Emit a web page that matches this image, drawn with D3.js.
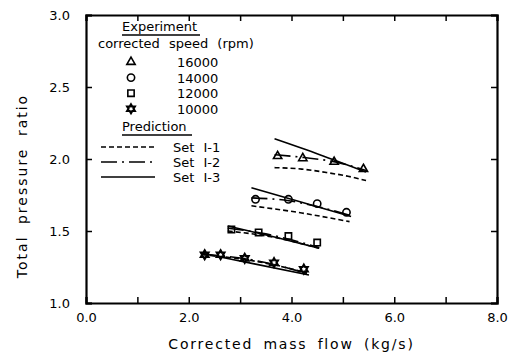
<!DOCTYPE html>
<html>
<head>
<meta charset="utf-8">
<script src="https://cdn.jsdelivr.net/npm/d3@7"></script>
<style>
  body { margin: 0; background: #fff; }
  svg { font-family: "DejaVu Sans", sans-serif; }
</style>
</head>
<body>
<svg width="511" height="362"></svg>
<script>
//data
const speeds = ["16000", "14000", "12000", "10000"];
const setNames = ["Set I-1", "Set I-2", "Set I-3"];
const xTicks = [0, 2, 4, 6, 8];
const yTicks = [1.0, 1.5, 2.0, 2.5, 3.0];

//experiment points, one array per speed
const expFlow16000 = [3.73, 4.22, 4.83, 5.40];
const expPR16000   = [2.02, 2.005, 1.98, 1.93];
const expFlow14000 = [3.30, 3.94, 4.50, 5.07];
const expPR14000   = [1.72, 1.72, 1.69, 1.63];
const expFlow12000 = [2.83, 3.36, 3.94, 4.50];
const expPR12000   = [1.51, 1.49, 1.465, 1.42];
const expFlow10000 = [2.31, 2.62, 3.09, 3.66, 4.24];
const expPR10000   = [1.335, 1.335, 1.31, 1.28, 1.235];

//predictions: Set I-1 (dashed)
const p1Flow16000 = [3.67, 4.2, 4.7, 5.1, 5.45];
const p1PR16000   = [1.94, 1.93, 1.905, 1.88, 1.85];
const p1Flow14000 = [3.22, 4.2, 5.13];
const p1PR14000   = [1.675, 1.625, 1.565];
const p1Flow12000 = [2.76, 3.6, 4.54];
const p1PR12000   = [1.50, 1.46, 1.38];
const p1Flow10000 = [2.26, 3.3, 4.3];
const p1PR10000   = [1.335, 1.29, 1.21];

//predictions: Set I-2 (dash-dot)
const p2Flow16000 = [3.67, 4.25, 4.85, 5.45];
const p2PR16000   = [2.03, 2.01, 1.98, 1.92];
const p2Flow14000 = [3.22, 3.95, 4.5, 5.13];
const p2PR14000   = [1.73, 1.71, 1.67, 1.61];
const p2Flow12000 = [2.76, 3.5, 4.54];
const p2PR12000   = [1.52, 1.48, 1.385];
const p2Flow10000 = [2.26, 3.3, 4.3];
const p2PR10000   = [1.34, 1.295, 1.205];

//predictions: Set I-3 (solid)
const p3Flow16000 = [3.67, 4.55, 5.45];
const p3PR16000   = [2.14, 2.03, 1.91];
const p3Flow14000 = [3.22, 4.2, 5.16];
const p3PR14000   = [1.80, 1.70, 1.60];
const p3Flow12000 = [2.76, 3.65, 4.54];
const p3PR12000   = [1.535, 1.46, 1.38];
const p3Flow10000 = [2.26, 3.3, 4.34];
const p3PR10000   = [1.345, 1.27, 1.195];

const zip = (xs, ys) => xs.map((x, i) => [x, ys[i]]);

const expSeries = [
  zip(expFlow16000, expPR16000),
  zip(expFlow14000, expPR14000),
  zip(expFlow12000, expPR12000),
  zip(expFlow10000, expPR10000)
];
const predSeries = [
  [zip(p1Flow16000, p1PR16000), zip(p1Flow14000, p1PR14000), zip(p1Flow12000, p1PR12000), zip(p1Flow10000, p1PR10000)],
  [zip(p2Flow16000, p2PR16000), zip(p2Flow14000, p2PR14000), zip(p2Flow12000, p2PR12000), zip(p2Flow10000, p2PR10000)],
  [zip(p3Flow16000, p3PR16000), zip(p3Flow14000, p3PR14000), zip(p3Flow12000, p3PR12000), zip(p3Flow10000, p3PR10000)]
];

const dashes = ["5,3", "16,5,2,5", null];

//hexagram marker
const symbolHex = {
  draw(context, size) {
    const r = Math.sqrt(size / 2.2);
    const ri = r / Math.sqrt(3);
    for (let i = 0; i < 12; i++) {
      const a = -Math.PI / 2 + i * Math.PI / 6;
      const rr = i % 2 === 0 ? r : ri;
      const px = rr * Math.cos(a), py = rr * Math.sin(a);
      if (i === 0) context.moveTo(px, py); else context.lineTo(px, py);
    }
    context.closePath();
  }
};
const symbols = [d3.symbolTriangle, d3.symbolCircle, d3.symbolSquare, symbolHex];
const symbolSizes = [30, 42, 40, 42];

const svg = d3.select("svg");
const plotLeft = 86, plotRight = 497, plotTop = 15, plotBottom = 303;

const xScale = d3.scaleLinear().domain([0, 8]).range([plotLeft, plotRight]);
const yScale = d3.scaleLinear().domain([1, 3]).range([plotBottom, plotTop]);

//axes, ticks inward on all four sides
svg.append("g")
  .attr("transform", `translate(0, ${plotBottom})`)
  .call(d3.axisBottom(xScale).tickValues(d3.range(0, 9, 1)).tickSize(-6)
    .tickFormat(d => xTicks.includes(d) ? d3.format(".1f")(d) : "").tickPadding(10));
svg.append("g")
  .attr("transform", `translate(0, ${plotTop})`)
  .call(d3.axisTop(xScale).tickValues(d3.range(0, 9, 1)).tickSize(-6).tickFormat(""));
svg.append("g")
  .attr("transform", `translate(${plotLeft}, 0)`)
  .call(d3.axisLeft(yScale).tickValues(yTicks).tickSize(-6)
    .tickFormat(d3.format(".1f")).tickPadding(16));
svg.append("g")
  .attr("transform", `translate(${plotRight}, 0)`)
  .call(d3.axisRight(yScale).tickValues(yTicks).tickSize(-6).tickFormat(""));

svg.selectAll(".domain").attr("stroke", "#000").attr("stroke-width", 2.2);
svg.selectAll(".tick line").attr("stroke", "#000").attr("stroke-width", 1.5);
svg.selectAll(".tick text").attr("font-size", 13).attr("fill", "#000")
  .attr("font-family", "DejaVu Sans, sans-serif");

//axis titles
svg.append("text")
  .attr("x", (plotLeft + plotRight) / 2)
  .attr("y", 349)
  .attr("text-anchor", "middle")
  .attr("font-size", 14)
  .attr("letter-spacing", 1.8)
  .attr("word-spacing", 4)
  .text("Corrected mass flow (kg/s)");

svg.append("text")
  .attr("transform", "translate(27, 186) rotate(-90)")
  .attr("text-anchor", "middle")
  .attr("font-size", 14)
  .attr("letter-spacing", 2)
  .attr("word-spacing", 5)
  .text("Total pressure ratio");

//prediction lines
const line = d3.line().x(d => xScale(d[0])).y(d => yScale(d[1])).curve(d3.curveMonotoneX);

predSeries.forEach((group, k) => {
  svg.append("g").selectAll("path")
    .data(group)
    .enter()
    .append("path")
      .attr("d", line)
      .attr("fill", "none")
      .attr("stroke", "#000")
      .attr("stroke-width", 1.6)
      .attr("stroke-dasharray", dashes[k]);
});

//experiment markers
expSeries.forEach((pts, k) => {
  svg.append("g").selectAll("path")
    .data(pts)
    .enter()
    .append("path")
      .attr("transform", d => `translate(${xScale(d[0])}, ${yScale(d[1])})`)
      .attr("d", d3.symbol().type(symbols[k]).size(symbolSizes[k]))
      .attr("fill", "none")
      .attr("stroke", "#000")
      .attr("stroke-width", k === 3 ? 2.2 : 1.6);
});

//legend
const legend = svg.append("g").attr("font-size", 13).attr("fill", "#000");

legend.append("text").attr("x", 122).attr("y", 31).text("Experiment");
legend.append("line").attr("x1", 122).attr("x2", 200).attr("y1", 35).attr("y2", 35)
  .attr("stroke", "#000").attr("stroke-width", 1.3);
legend.append("text").attr("x", 98).attr("y", 48).attr("word-spacing", 5).text("corrected speed (rpm)");

speeds.forEach((s, i) => {
  const yy = 62 + i * 15.6;
  legend.append("path")
    .attr("transform", `translate(131, ${yy})`)
    .attr("d", d3.symbol().type(symbols[i]).size(symbolSizes[i]))
    .attr("fill", "none")
    .attr("stroke", "#000")
    .attr("stroke-width", i === 3 ? 2.2 : 1.6);
  legend.append("text").attr("x", 177).attr("y", yy + 5).text(s);
});

legend.append("text").attr("x", 122).attr("y", 131).text("Prediction");
legend.append("line").attr("x1", 122).attr("x2", 192).attr("y1", 135).attr("y2", 135)
  .attr("stroke", "#000").attr("stroke-width", 1.3);

setNames.forEach((s, i) => {
  const yy = 147 + i * 15;
  legend.append("line")
    .attr("x1", 101).attr("x2", 155).attr("y1", yy).attr("y2", yy)
    .attr("stroke", "#000").attr("stroke-width", 1.4)
    .attr("stroke-dasharray", dashes[i]);
  legend.append("text").attr("x", 173).attr("y", yy + 5).attr("word-spacing", 5).text(s);
});
</script>
</body>
</html>
